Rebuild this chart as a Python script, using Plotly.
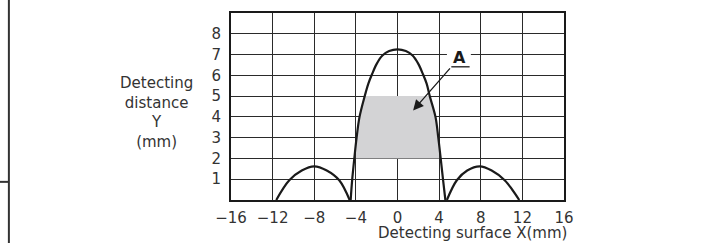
import plotly.graph_objects as go

# ---- data ----
main_x = [-4.5, -4.35, -4.15, -3.93, -3.65, -3.15, -2.8, -2.45, -2.0, -1.45, -0.8, 0,
          0.8, 1.45, 2.0, 2.45, 2.8, 3.1, 3.65, 3.92, 4.15, 4.37, 4.6]
main_y = [0, 1, 2, 3, 4, 5, 5.6, 6.05, 6.55, 6.95, 7.17, 7.25,
          7.17, 6.95, 6.55, 6.05, 5.6, 5, 4, 3, 2, 1, 0]

left_x = [-11.65, -10.4, -9.2, -8.0, -6.8, -5.6, -4.6]
left_y = [0, 0.95, 1.42, 1.62, 1.42, 0.95, 0]

right_x = [4.75, 5.7, 6.7, 7.9, 9.05, 10.3, 11.7]
right_y = [0, 0.95, 1.42, 1.62, 1.42, 0.95, 0]

area_x = [-4, -4, -3.65, -3.42, -3.15, 3.1, 3.4, 3.65, 3.92, 4, 4]
area_y = [2, 2.75, 4, 4.5, 5, 5, 4.5, 4, 3, 2.75, 2]

x_ticks = [-16, -12, -8, -4, 0, 4, 8, 12, 16]
x_tick_text = ["\u221216", "\u221212", "\u22128", "\u22124", "0", "4", "8", "12", "16"]
y_ticks = [1, 2, 3, 4, 5, 6, 7, 8]

label_a = "A"
label_a_pos = (5.97, 6.86)
label_a_box = (4.75, 7.05, 6.59, 7.27)
arrow_tail = (5.17, 6.41)
arrow_head = (1.5, 4.31)
underline_end = 6.93

x_title = "Detecting surface X(mm)"
y_title = "Detecting<br>distance<br>Y<br>(mm)"

FONT = "DejaVu Sans"
INK = "#1a1a1a"
GRID = "#2a2a2a"
TEXT = "#333333"

fig = go.Figure()

fig.add_trace(go.Scatter(x=area_x, y=area_y, fill="toself", mode="none",
                         fillcolor="#d3d3d5", hoverinfo="skip", showlegend=False))
for xs, ys in [(left_x, left_y), (main_x, main_y), (right_x, right_y)]:
    fig.add_trace(go.Scatter(x=xs, y=ys, mode="lines",
                             line=dict(color=INK, width=2.2, shape="spline", smoothing=1),
                             showlegend=False, hoverinfo="skip"))

fig.update_layout(
    width=718, height=243,
    margin=dict(l=231, r=154, t=11, b=43),
    paper_bgcolor="white", plot_bgcolor="white",
    font=dict(family=FONT, size=15, color=TEXT),
    showlegend=False,
)
fig.update_xaxes(range=[-16, 16], tickvals=x_ticks, ticktext=x_tick_text,
                 showgrid=True, gridcolor=GRID, gridwidth=1,
                 showline=True, linecolor=INK, linewidth=2, mirror=True,
                 ticks="outside", ticklen=3, tickcolor="rgba(0,0,0,0)",
                 zeroline=False, layer="below traces")
fig.update_yaxes(range=[0, 9], tickvals=y_ticks,
                 showgrid=True, gridcolor=GRID, gridwidth=1,
                 showline=True, linecolor=INK, linewidth=2, mirror=True,
                 ticks="outside", ticklen=5, tickcolor="rgba(0,0,0,0)",
                 zeroline=False, layer="below traces")

# axis titles
fig.add_annotation(text=x_title, xref="paper", yref="paper", x=0.725, y=0,
                   xanchor="center", yanchor="top", yshift=-22, showarrow=False,
                   font=dict(family=FONT, size=15, color=TEXT))
fig.add_annotation(text=y_title, xref="paper", yref="paper", x=-0.223, y=0.466,
                   xanchor="center", yanchor="middle", showarrow=False, align="center",
                   font=dict(family=FONT, size=15, color=TEXT))

# label A with white knock-out, underline and arrow
fig.add_shape(type="rect", x0=label_a_box[0], x1=label_a_box[1], y0=label_a_box[2], y1=label_a_box[3],
              fillcolor="white", line=dict(width=0), layer="above")
fig.add_shape(type="line", x0=arrow_tail[0], x1=underline_end, y0=arrow_tail[1], y1=arrow_tail[1],
              line=dict(color=INK, width=1.3), layer="above")
fig.add_annotation(text="<b>%s</b>" % label_a, x=label_a_pos[0], y=label_a_pos[1],
                   showarrow=False, font=dict(family=FONT, size=16, color=INK))
fig.add_annotation(text="", x=arrow_head[0], y=arrow_head[1], ax=arrow_tail[0], ay=arrow_tail[1],
                   axref="x", ayref="y", showarrow=True, arrowhead=2, arrowsize=1.6,
                   arrowwidth=1.3, arrowcolor=INK, standoff=0)

# page frame lines at the left
fig.add_shape(type="line", xref="paper", yref="paper", x0=-0.667, x1=-0.667, y0=1.07, y1=-0.23,
              line=dict(color=TEXT, width=2))
fig.add_shape(type="line", xref="paper", yref="paper", x0=-0.7, x1=-0.667, y0=0.097, y1=0.097,
              line=dict(color=TEXT, width=2))

fig.write_html("out.html", config={"displayModeBar": False},
               post_script="document.body.style.margin='0px';")
